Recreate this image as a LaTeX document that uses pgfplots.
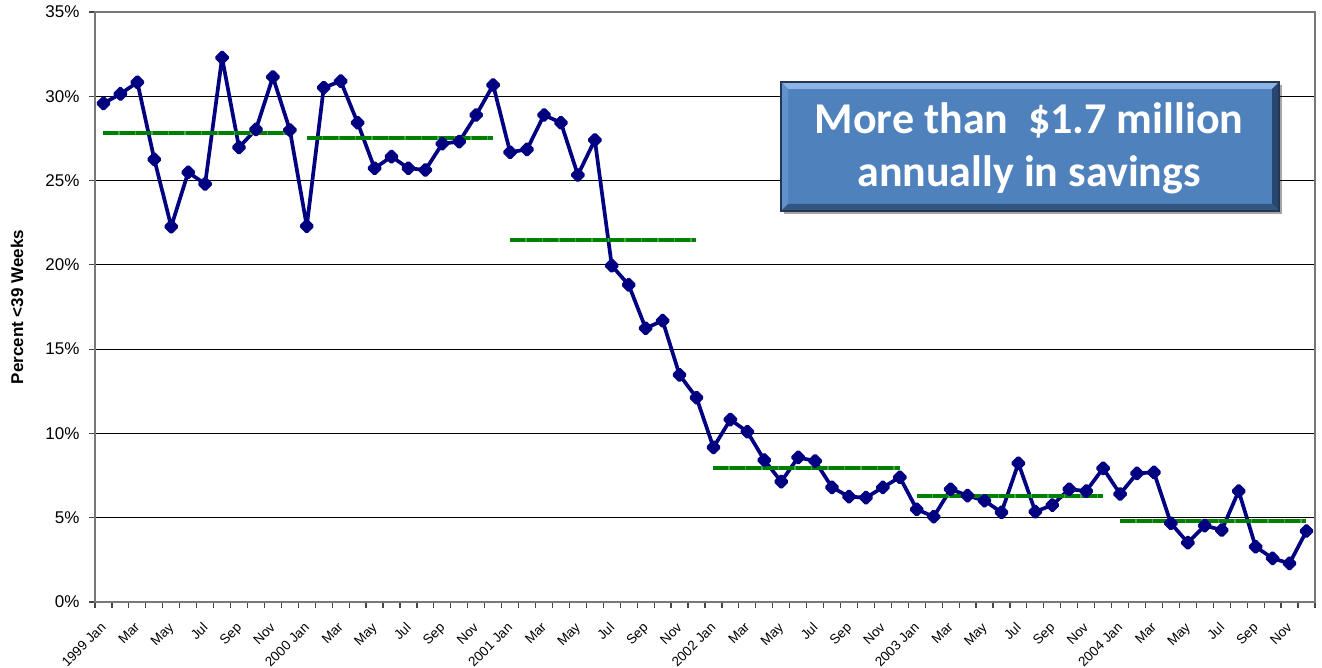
\documentclass[border=0pt]{standalone}
\usepackage{pgfplots}
\pgfplotsset{compat=1.18}
\usepackage{pgfplotstable}
\usepackage{fontspec}
\setmainfont{Liberation Sans}
\newfontfamily\calibri{Carlito}

\definecolor{navyline}{RGB}{0,0,128}
\definecolor{meangreen}{RGB}{0,128,0}
\definecolor{axisgray}{RGB}{120,120,120}
\definecolor{tickgray}{RGB}{70,70,70}
\definecolor{boxblue}{RGB}{79,129,189}
\definecolor{bevtop}{RGB}{140,180,228}
\definecolor{bevleft}{RGB}{95,145,205}
\definecolor{bevright}{RGB}{40,70,110}
\definecolor{bevbot}{RGB}{50,85,130}
\definecolor{boxedge}{RGB}{35,55,85}

% month index (0 = 1999 Jan), percent under 39 weeks
\pgfplotstableread{
m  v
0  29.58
1  30.14
2  30.83
3  26.26
4  22.27
5  25.49
6  24.80
7  32.29
8  26.97
9  28.04
10 31.14
11 28.00
12 22.30
13 30.51
14 30.90
15 28.43
16 25.73
17 26.42
18 25.73
19 25.63
20 27.19
21 27.31
22 28.89
23 30.67
24 26.68
25 26.85
26 28.89
27 28.43
28 25.33
29 27.41
30 19.95
31 18.81
32 16.24
33 16.69
34 13.47
35 12.12
36 9.17
37 10.82
38 10.10
39 8.42
40 7.14
41 8.58
42 8.36
43 6.80
44 6.25
45 6.19
46 6.80
47 7.40
48 5.50
49 5.06
50 6.69
51 6.31
52 6.01
53 5.32
54 8.23
55 5.36
56 5.75
57 6.69
58 6.58
59 7.93
60 6.41
61 7.63
62 7.69
63 4.67
64 3.52
65 4.53
66 4.27
67 6.58
68 3.28
69 2.59
70 2.29
71 4.21
}\monthly

% yearly means: start month, end month, value
\pgfplotstableread{
a  b  v
0  11 27.82
12 23 27.50
24 35 21.47
36 47 7.95
48 59 6.29
60 71 4.83
}\means

\pgfplotsset{
  meanunder/.style={meangreen!70!white, line width=4pt},
  meandash/.style={meangreen, line width=4pt, dash pattern=on 15pt off 1.5pt},
}

\begin{document}
\begin{tikzpicture}
\begin{axis}[
  at={(0,0)}, anchor=south west,
  scale only axis, width=1220pt, height=590pt,
  xmin=-0.5, xmax=71.5, ymin=0, ymax=35,
  axis line style={draw=axisgray, line width=2pt},
  xtick={0,2,...,70},
  xticklabels={1999 Jan,Mar,May,Jul,Sep,Nov,2000 Jan,Mar,May,Jul,Sep,Nov,
    2001 Jan,Mar,May,Jul,Sep,Nov,2002 Jan,Mar,May,Jul,Sep,Nov,
    2003 Jan,Mar,May,Jul,Sep,Nov,2004 Jan,Mar,May,Jul,Sep,Nov},
  minor xtick={-0.5,0.5,...,71.5},
  ytick={0,5,...,35},
  yticklabels={0\%,5\%,10\%,15\%,20\%,25\%,30\%,35\%},
  tick align=outside, xtick pos=bottom, ytick pos=left,
  major tick length=6pt, minor tick length=6pt,
  major x tick style={draw=none},
  minor x tick style={draw=tickgray, line width=1.2pt},
  major y tick style={draw=tickgray, line width=1.2pt},
  ymajorgrids, major grid style={draw=black, line width=1pt},
  yticklabel style={font=\fontsize{17}{17}\selectfont, xshift=-6pt},
  xticklabel style={font=\fontsize{13.5}{13.5}\selectfont, rotate=45,
    anchor=north east, inner sep=0pt, xshift=-12pt, yshift=-7pt},
  ylabel={Percent <39 Weeks},
  every axis y label/.style={at={(rel axis cs:0,0.5)}, xshift=-78pt,
    rotate=90, anchor=center, font=\bfseries\fontsize{17}{17}\selectfont},
  clip=false,
]
\addplot[navyline, line width=3.7pt, line join=round,
  mark=square*, mark size=3.8pt, mark options={rotate=45, solid}]
  table[x=m, y=v] {\monthly};
\pgfplotsinvokeforeach{0,...,5}{
  \pgfplotstablegetelem{#1}{a}\of\means \let\ma\pgfplotsretval
  \pgfplotstablegetelem{#1}{b}\of\means \let\mb\pgfplotsretval
  \pgfplotstablegetelem{#1}{v}\of\means \let\mv\pgfplotsretval
  \edef\doplot{\noexpand\addplot[meanunder] coordinates {(\ma,\mv) (\mb,\mv)};
    \noexpand\addplot[meandash] coordinates {(\ma,\mv) (\mb,\mv)};}
  \doplot
}
\end{axis}

\begin{scope}[x=1pt,y=1pt]
  \fill[black, opacity=0.35] (689,388) rectangle (1187,517);
  \fill[boxblue] (686,391) rectangle (1184,520);
  \fill[bevtop] (686,520) -- (1184,520) -- (1177,513) -- (693,513) -- cycle;
  \fill[bevleft] (686,391) -- (686,520) -- (693,513) -- (693,398) -- cycle;
  \fill[bevright] (1184,391) -- (1184,520) -- (1177,513) -- (1177,398) -- cycle;
  \fill[bevbot] (686,391) -- (1184,391) -- (1177,398) -- (693,398) -- cycle;
  \draw[boxedge, line width=1.5pt] (686,391) rectangle (1184,520);
  \node[anchor=base, text=white, inner sep=0,
    font=\calibri\bfseries\fontsize{44}{44}\selectfont]
    at (934,468.5) {More than\ \ \$1.7 million};
  \node[anchor=base, text=white, inner sep=0,
    font=\calibri\bfseries\fontsize{44}{44}\selectfont]
    at (934,415) {annually in savings};
\end{scope}

\pgfresetboundingbox
\path[use as bounding box] (-95pt,-66pt) rectangle (1227pt,602pt);
\end{tikzpicture}
\end{document}
